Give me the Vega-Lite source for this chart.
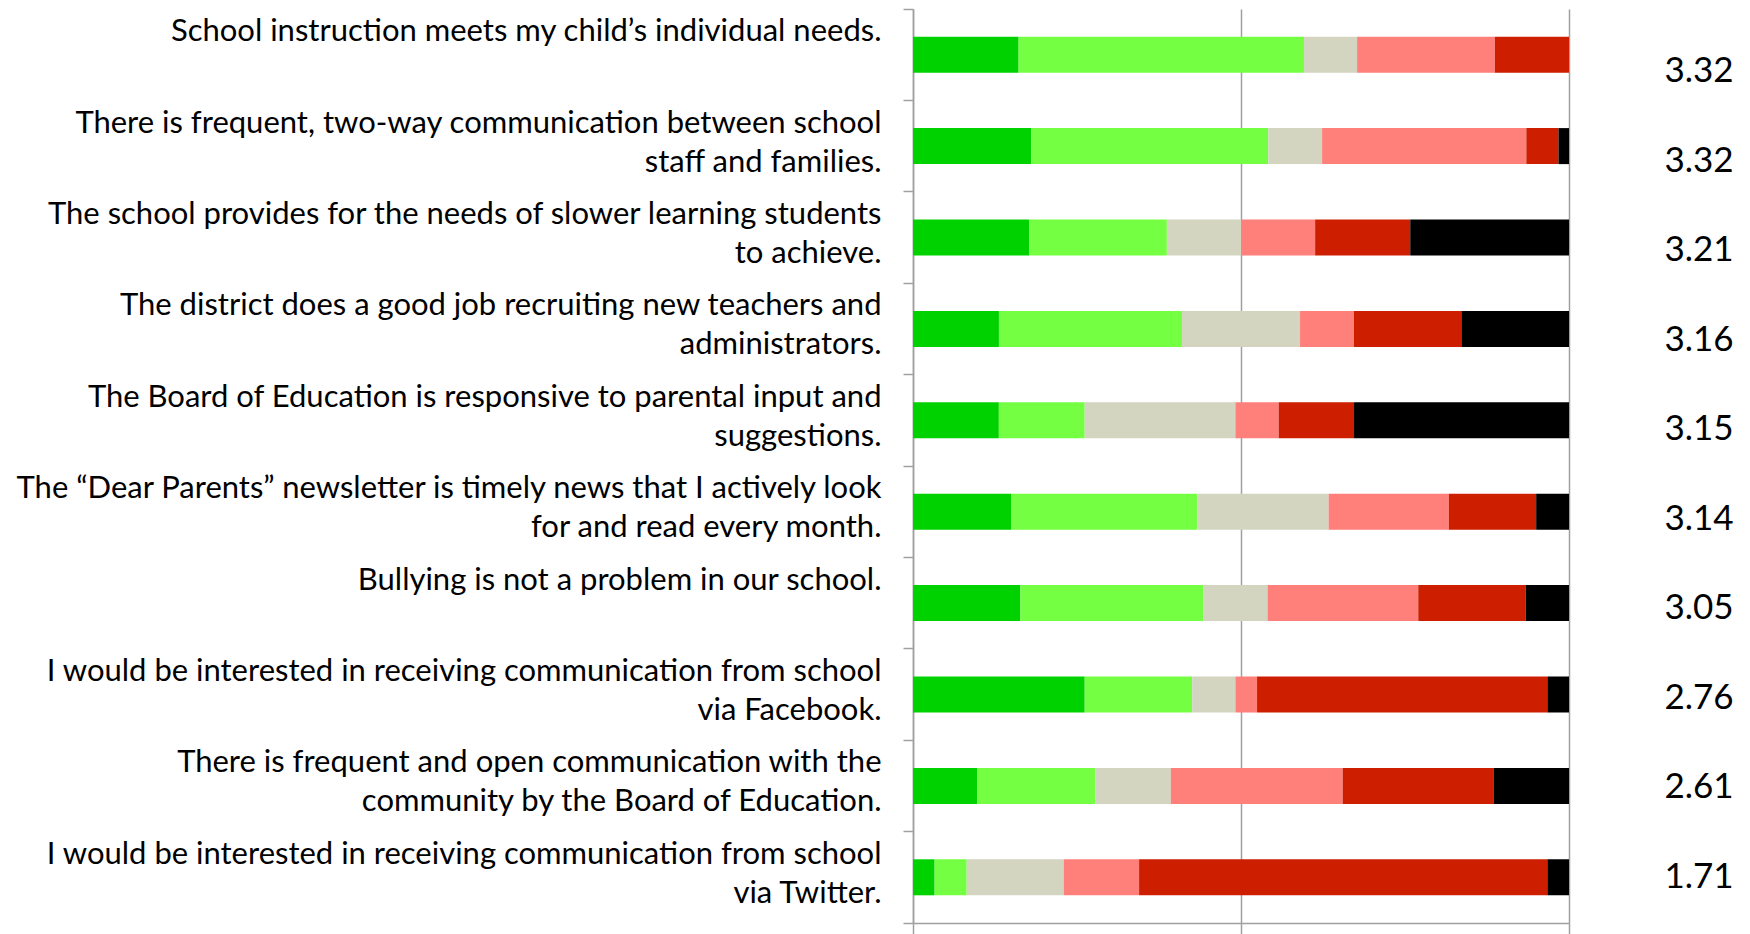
{
  "$schema": "https://vega.github.io/schema/vega-lite/v6.json",
  "autosize": {"type": "none"},
  "padding": {"left": 913, "top": 9, "right": 837, "bottom": 925},
  "bounds": "flush",
  "spacing": 100,
  "config": {"view": {"stroke": null}, "font": "Lato", "background": "white"},
  "datasets": {
    "questions": [
      {"id": 1, "question": "School instruction meets my child’s individual needs.|", "mean": 3.32},
      {"id": 2, "question": "There is frequent, two-way communication between school|staff and families.", "mean": 3.32},
      {"id": 3, "question": "The school provides for the needs of slower learning students|to achieve.", "mean": 3.21},
      {"id": 4, "question": "The district does a good job recruiting new teachers and|administrators.", "mean": 3.16},
      {"id": 5, "question": "The Board of Education is responsive to parental input and|suggestions.", "mean": 3.15},
      {"id": 6, "question": "The “Dear Parents” newsletter is timely news that I actively look|for and read every month.", "mean": 3.14},
      {"id": 7, "question": "Bullying is not a problem in our school.|", "mean": 3.05},
      {"id": 8, "question": "I would be interested in receiving communication from school|via Facebook.", "mean": 2.76},
      {"id": 9, "question": "There is frequent and open communication with the|community by the Board of Education.", "mean": 2.61},
      {"id": 10, "question": "I would be interested in receiving communication from school|via Twitter.", "mean": 1.71}
    ],
    "responses": [
      {"id": 1, "k": 1, "response": "Strongly agree", "pct": 16.1},
      {"id": 1, "k": 2, "response": "Agree", "pct": 43.5},
      {"id": 1, "k": 3, "response": "Neutral", "pct": 8.1},
      {"id": 1, "k": 4, "response": "Disagree", "pct": 21.0},
      {"id": 1, "k": 5, "response": "Strongly disagree", "pct": 11.3},
      {"id": 1, "k": 6, "response": "Don't know", "pct": 0},
      {"id": 2, "k": 1, "response": "Strongly agree", "pct": 18.0},
      {"id": 2, "k": 2, "response": "Agree", "pct": 36.1},
      {"id": 2, "k": 3, "response": "Neutral", "pct": 8.2},
      {"id": 2, "k": 4, "response": "Disagree", "pct": 31.1},
      {"id": 2, "k": 5, "response": "Strongly disagree", "pct": 4.9},
      {"id": 2, "k": 6, "response": "Don't know", "pct": 1.6},
      {"id": 3, "k": 1, "response": "Strongly agree", "pct": 17.7},
      {"id": 3, "k": 2, "response": "Agree", "pct": 21.0},
      {"id": 3, "k": 3, "response": "Neutral", "pct": 11.3},
      {"id": 3, "k": 4, "response": "Disagree", "pct": 11.3},
      {"id": 3, "k": 5, "response": "Strongly disagree", "pct": 14.5},
      {"id": 3, "k": 6, "response": "Don't know", "pct": 24.2},
      {"id": 4, "k": 1, "response": "Strongly agree", "pct": 13.1},
      {"id": 4, "k": 2, "response": "Agree", "pct": 27.9},
      {"id": 4, "k": 3, "response": "Neutral", "pct": 18.0},
      {"id": 4, "k": 4, "response": "Disagree", "pct": 8.2},
      {"id": 4, "k": 5, "response": "Strongly disagree", "pct": 16.4},
      {"id": 4, "k": 6, "response": "Don't know", "pct": 16.4},
      {"id": 5, "k": 1, "response": "Strongly agree", "pct": 13.1},
      {"id": 5, "k": 2, "response": "Agree", "pct": 13.1},
      {"id": 5, "k": 3, "response": "Neutral", "pct": 23.0},
      {"id": 5, "k": 4, "response": "Disagree", "pct": 6.6},
      {"id": 5, "k": 5, "response": "Strongly disagree", "pct": 11.5},
      {"id": 5, "k": 6, "response": "Don't know", "pct": 32.8},
      {"id": 6, "k": 1, "response": "Strongly agree", "pct": 15.0},
      {"id": 6, "k": 2, "response": "Agree", "pct": 28.3},
      {"id": 6, "k": 3, "response": "Neutral", "pct": 20.0},
      {"id": 6, "k": 4, "response": "Disagree", "pct": 18.3},
      {"id": 6, "k": 5, "response": "Strongly disagree", "pct": 13.3},
      {"id": 6, "k": 6, "response": "Don't know", "pct": 5.0},
      {"id": 7, "k": 1, "response": "Strongly agree", "pct": 16.4},
      {"id": 7, "k": 2, "response": "Agree", "pct": 27.9},
      {"id": 7, "k": 3, "response": "Neutral", "pct": 9.8},
      {"id": 7, "k": 4, "response": "Disagree", "pct": 23.0},
      {"id": 7, "k": 5, "response": "Strongly disagree", "pct": 16.4},
      {"id": 7, "k": 6, "response": "Don't know", "pct": 6.6},
      {"id": 8, "k": 1, "response": "Strongly agree", "pct": 26.2},
      {"id": 8, "k": 2, "response": "Agree", "pct": 16.4},
      {"id": 8, "k": 3, "response": "Neutral", "pct": 6.6},
      {"id": 8, "k": 4, "response": "Disagree", "pct": 3.3},
      {"id": 8, "k": 5, "response": "Strongly disagree", "pct": 44.3},
      {"id": 8, "k": 6, "response": "Don't know", "pct": 3.3},
      {"id": 9, "k": 1, "response": "Strongly agree", "pct": 9.8},
      {"id": 9, "k": 2, "response": "Agree", "pct": 18.0},
      {"id": 9, "k": 3, "response": "Neutral", "pct": 11.5},
      {"id": 9, "k": 4, "response": "Disagree", "pct": 26.2},
      {"id": 9, "k": 5, "response": "Strongly disagree", "pct": 23.0},
      {"id": 9, "k": 6, "response": "Don't know", "pct": 11.5},
      {"id": 10, "k": 1, "response": "Strongly agree", "pct": 3.3},
      {"id": 10, "k": 2, "response": "Agree", "pct": 4.9},
      {"id": 10, "k": 3, "response": "Neutral", "pct": 14.8},
      {"id": 10, "k": 4, "response": "Disagree", "pct": 11.5},
      {"id": 10, "k": 5, "response": "Strongly disagree", "pct": 62.3},
      {"id": 10, "k": 6, "response": "Don't know", "pct": 3.3}
    ]
  },
  "hconcat": [
    {
      "width": 656,
      "height": 914,
      "data": {"name": "responses"},
      "transform": [
        {"lookup": "id", "from": {"data": {"name": "questions"}, "key": "id", "fields": ["question"]}}
      ],
      "mark": {"type": "bar", "height": {"band": 0.394}},
      "encoding": {
        "y": {
          "field": "question", "type": "nominal", "sort": {"field": "id", "op": "min"},
          "scale": {"paddingInner": 0, "paddingOuter": 0},
          "axis": {
            "title": null, "bandPosition": 1, "tickExtra": true, "tickSize": 10,
            "tickColor": "#a0a0a0", "tickWidth": 1.5, "domainColor": "#a0a0a0", "domainWidth": 1.5,
            "labelExpr": "split(datum.label, '|')", "labelFont": "Lato", "labelFontSize": 31,
            "labelColor": "#000000", "labelPadding": 22, "labelLineHeight": 39, "labelOffset": -22.5,
            "labelLimit": 0, "labelBaseline": "middle", "labelAlign": "right", "grid": false
          }
        },
        "x": {
          "field": "pct", "type": "quantitative", "stack": "normalize",
          "scale": {"domain": [0, 1], "nice": false},
          "axis": {
            "title": null, "labels": false, "values": [0, 0.5, 1], "grid": true,
            "gridColor": "#a0a0a0", "gridWidth": 1.5, "tickSize": 14, "tickColor": "#a0a0a0",
            "tickWidth": 1.5, "domainColor": "#a0a0a0", "domainWidth": 1.5
          }
        },
        "color": {
          "field": "response", "type": "nominal",
          "scale": {
            "domain": ["Strongly agree", "Agree", "Neutral", "Disagree", "Strongly disagree", "Don't know"],
            "range": ["#00D200", "#75FF42", "#D3D5C0", "#FF7F7A", "#CD1F00", "#000000"]
          },
          "legend": null
        },
        "order": {"field": "k", "type": "quantitative"}
      }
    },
    {
      "width": 60,
      "height": 914,
      "data": {"name": "questions"},
      "mark": {"type": "text", "font": "Lato", "fontSize": 35, "align": "center", "baseline": "middle", "color": "#000000"},
      "encoding": {
        "y": {
          "field": "question", "type": "nominal", "sort": {"field": "id", "op": "min"},
          "scale": {"type": "point", "padding": 0.607, "align": 0.574},
          "axis": null
        },
        "text": {"field": "mean", "type": "quantitative", "format": ".2f"}
      }
    }
  ]
}
